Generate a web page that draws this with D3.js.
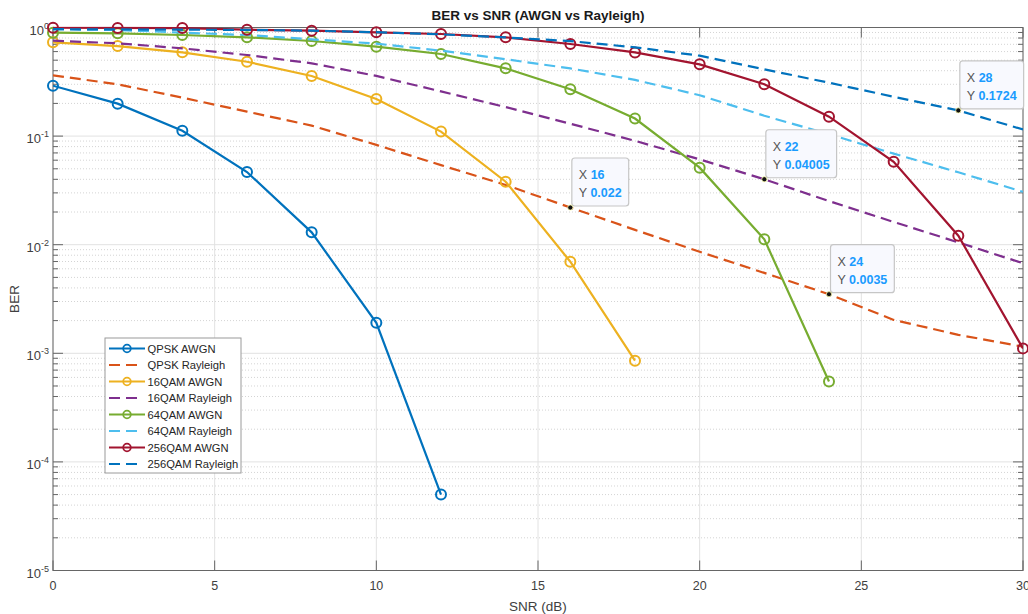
<!DOCTYPE html>
<html><head><meta charset="utf-8">
<script src="https://cdn.jsdelivr.net/npm/d3@7"></script>
<style>
body{margin:0;background:#fff;}
svg{display:block;font-family:"Liberation Sans",Arial,Helvetica,sans-serif;}
</style>
</head><body><svg id="c" width="1028" height="614"></svg>
<script>
// ---------------- data ----------------
const snrDb = [0,2,4,6,8,10,12,14,16,18,20,22,24,26,28,30];
const qpskAwgn    = [0.291,0.199,0.112,0.0467,0.0130,0.00191,5.0e-5];
const qpskRay     = [0.363,0.30,0.226,0.168,0.125,0.083,0.054,0.0355,0.022,0.0137,0.0086,0.0055,0.0035,0.00203,0.00148,0.00115];
const qam16Awgn   = [0.73,0.675,0.591,0.484,0.358,0.22,0.110,0.038,0.00697,0.000855];
const qam16Ray    = [0.756,0.715,0.643,0.558,0.468,0.358,0.258,0.185,0.13,0.0905,0.061,0.04005,0.0252,0.0162,0.0105,0.00675];
const qam64Awgn   = [0.896,0.884,0.853,0.812,0.751,0.666,0.57,0.421,0.27,0.145,0.0512,0.0112,0.00055];
const qam64Ray    = [0.962,0.95,0.896,0.853,0.778,0.71,0.612,0.51,0.42,0.329,0.238,0.154,0.104,0.069,0.0464,0.0307];
const qam256Awgn  = [0.995,0.99,0.987,0.955,0.935,0.903,0.871,0.812,0.705,0.59,0.458,0.30,0.151,0.058,0.0121,0.00111];
const qam256Ray   = [0.965,0.96,0.955,0.95,0.935,0.905,0.865,0.81,0.75,0.657,0.55,0.412,0.31,0.23,0.1724,0.115];

const seriesNames = ["QPSK AWGN","QPSK Rayleigh","16QAM AWGN","16QAM Rayleigh","64QAM AWGN","64QAM Rayleigh","256QAM AWGN","256QAM Rayleigh"];
const seriesValues = [qpskAwgn,qpskRay,qam16Awgn,qam16Ray,qam64Awgn,qam64Ray,qam256Awgn,qam256Ray];

const xTicks = [0,5,10,15,20,25,30];
const yExponents = [-5,-4,-3,-2,-1,0];

const tipX = [16,22,24,28];
const tipY = [0.022,0.04005,0.0035,0.1724];
const tipXLabels = ["16","22","24","28"];
const tipYLabels = ["0.022","0.04005","0.0035","0.1724"];

const titleText = "BER vs SNR (AWGN vs Rayleigh)";
const xLabelText = "SNR (dB)";
const yLabelText = "BER";

// ---------------- styles ----------------
const seriesColors = ["#0072BD","#D95319","#EDB120","#7E2F8E","#77AC30","#4DBEEE","#A2142F","#0072BD"];
const seriesDashed = [false,true,false,true,false,true,false,true];

// ---------------- layout ----------------
const L = 53, R = 1023, T = 27.5, B = 570.5;
const svg = d3.select("#c");
const x = d3.scaleLinear().domain([0,30]).range([L,R]);
const y = d3.scaleLog().domain([1e-5,1]).range([B,T]);

// grid
const gGrid = svg.append("g");
const minorVals = [];
yExponents.slice(0,-1).forEach(e => { for (let m=2;m<=9;m++) minorVals.push(m*Math.pow(10,e)); });
gGrid.selectAll("line.minor").data(minorVals).enter().append("line")
  .attr("x1",L).attr("x2",R).attr("y1",d=>y(d)).attr("y2",d=>y(d))
  .attr("stroke","#d4d4d4").attr("stroke-width",1).attr("stroke-dasharray","1,2");
const majorVals = yExponents.map(e=>Math.pow(10,e));
gGrid.selectAll("line.majy").data(majorVals).enter().append("line")
  .attr("x1",L).attr("x2",R).attr("y1",d=>y(d)).attr("y2",d=>y(d))
  .attr("stroke","#e2e2e2").attr("stroke-width",1);
gGrid.selectAll("line.majx").data(xTicks).enter().append("line")
  .attr("x1",d=>x(d)).attr("x2",d=>x(d)).attr("y1",T).attr("y2",B)
  .attr("stroke","#e2e2e2").attr("stroke-width",1);

// axes box & ticks
const gAx = svg.append("g");
const axisColor = "#666";
gAx.append("rect").attr("x",L).attr("y",T).attr("width",R-L).attr("height",B-T)
  .attr("fill","none").attr("stroke",axisColor).attr("stroke-width",1);
xTicks.forEach(v => {
  gAx.append("line").attr("x1",x(v)).attr("x2",x(v)).attr("y1",B).attr("y2",B-10).attr("stroke",axisColor);
  gAx.append("line").attr("x1",x(v)).attr("x2",x(v)).attr("y1",T).attr("y2",T+10).attr("stroke",axisColor);
  gAx.append("text").attr("x",x(v)).attr("y",B+19).attr("text-anchor","middle")
    .attr("font-size",12.5).attr("fill","#404040").text(v);
});
majorVals.forEach(v => {
  gAx.append("line").attr("x1",L).attr("x2",L+10).attr("y1",y(v)).attr("y2",y(v)).attr("stroke",axisColor);
  gAx.append("line").attr("x1",R).attr("x2",R-10).attr("y1",y(v)).attr("y2",y(v)).attr("stroke",axisColor);
});
minorVals.forEach(v => {
  gAx.append("line").attr("x1",L).attr("x2",L+5).attr("y1",y(v)).attr("y2",y(v)).attr("stroke",axisColor);
  gAx.append("line").attr("x1",R).attr("x2",R-5).attr("y1",y(v)).attr("y2",y(v)).attr("stroke",axisColor);
});
yExponents.forEach(e => {
  const t = gAx.append("text").attr("x",49).attr("y",y(Math.pow(10,e))+7)
    .attr("text-anchor","end").attr("font-size",13).attr("fill","#404040");
  t.append("tspan").text("10");
  t.append("tspan").attr("dy",-6).attr("font-size",9).text(String(e));
});

// labels
svg.append("text").attr("x",(L+R)/2).attr("y",20).attr("text-anchor","middle")
  .attr("font-size",13.5).attr("font-weight","bold").attr("fill","#1a1a1a").text(titleText);
svg.append("text").attr("x",(L+R)/2).attr("y",611).attr("text-anchor","middle")
  .attr("font-size",13.5).attr("fill","#404040").text(xLabelText);
svg.append("text").attr("transform",`translate(19,${(T+B)/2}) rotate(-90)`).attr("text-anchor","middle")
  .attr("font-size",13.5).attr("fill","#404040").text(yLabelText);

// clip
svg.append("defs").append("clipPath").attr("id","clip").append("rect")
  .attr("x",L).attr("y",T-1).attr("width",R-L).attr("height",B-T+2);

// series
const line = d3.line().x(d=>x(d[0])).y(d=>y(d[1]));
const gData = svg.append("g");
seriesValues.forEach((vals,i) => {
  const pts = vals.map((v,j)=>[snrDb[j],v]);
  gData.append("path").datum(pts).attr("d",line).attr("fill","none")
    .attr("stroke",seriesColors[i]).attr("stroke-width",2.2)
    .attr("stroke-dasharray",seriesDashed[i]?"11,6":null)
    .attr("clip-path","url(#clip)");
  if (!seriesDashed[i]) {
    gData.selectAll(null).data(pts).enter().append("circle")
      .attr("cx",d=>x(d[0])).attr("cy",d=>y(d[1])).attr("r",5)
      .attr("fill","none").attr("stroke",seriesColors[i]).attr("stroke-width",2);
  }
});

// legend
const gLeg = svg.append("g");
const legX = 105, legY = 338, legW = 136, legH = 135;
gLeg.append("rect").attr("x",legX).attr("y",legY).attr("width",legW).attr("height",legH)
  .attr("fill","#fff").attr("stroke","#9a9a9a").attr("stroke-width",1);
seriesNames.forEach((n,i) => {
  const cy = 348.5 + i*16.5;
  if (seriesDashed[i]) {
    gLeg.append("line").attr("x1",109).attr("x2",138).attr("y1",cy).attr("y2",cy)
      .attr("stroke",seriesColors[i]).attr("stroke-width",2.2).attr("stroke-dasharray","11,6");
  } else {
    gLeg.append("line").attr("x1",109).attr("x2",145).attr("y1",cy).attr("y2",cy)
      .attr("stroke",seriesColors[i]).attr("stroke-width",2.2);
    gLeg.append("circle").attr("cx",127).attr("cy",cy).attr("r",3.8)
      .attr("fill","none").attr("stroke",seriesColors[i]).attr("stroke-width",1.8);
  }
  gLeg.append("text").attr("x",147.5).attr("y",cy+4).attr("font-size",11.2)
    .attr("fill","#262626").text(n);
});

// datatips
const gTip = svg.append("g");
tipX.forEach((tx,i) => {
  const cx = x(tx), cy = y(tipY[i]);
  const g = gTip.append("g");
  const box = g.append("rect");
  const t1 = g.append("text").attr("font-size",12.5);
  t1.append("tspan").attr("fill","#555").text("X ");
  t1.append("tspan").attr("fill","#1a9bff").attr("font-weight","bold").text(tipXLabels[i]);
  const t2 = g.append("text").attr("font-size",12.5);
  t2.append("tspan").attr("fill","#555").text("Y ");
  t2.append("tspan").attr("fill","#1a9bff").attr("font-weight","bold").text(tipYLabels[i]);
  const bx = cx + 1.5, bh = 48, by = cy - 1.5 - bh;
  const w = Math.max(t1.node().getComputedTextLength(), t2.node().getComputedTextLength()) + 14;
  box.attr("x",bx).attr("y",by).attr("width",w).attr("height",bh).attr("rx",3)
    .attr("fill","#f8f9fe").attr("stroke","#c6c6c6").attr("stroke-width",1.2);
  t1.attr("x",bx+7).attr("y",by+21);
  t2.attr("x",bx+7).attr("y",by+39);
  g.append("circle").attr("cx",cx).attr("cy",cy).attr("r",2.6)
    .attr("fill","#111").attr("stroke","#ffffb0").attr("stroke-width",0.8);
});
</script>
</body></html>
